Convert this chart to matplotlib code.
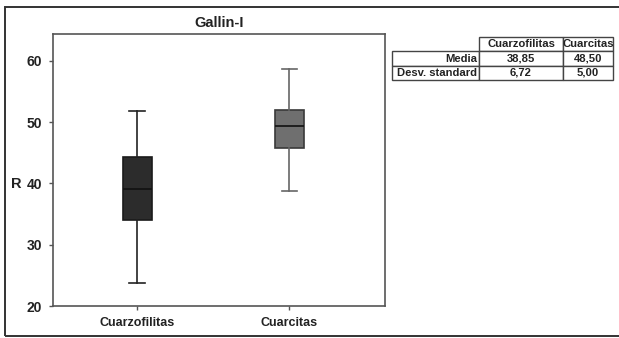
import matplotlib
matplotlib.use("Agg")
import matplotlib.pyplot as plt
from matplotlib.patches import Rectangle

plt.rcParams['font.family'] = ['Liberation Sans', 'DejaVu Sans']

# Box statistics (R values)
categories = ["Cuarzofilitas", "Cuarcitas"]
whisker_low = [23.75, 38.8]
q1 = [34.0, 45.8]
median = [39.1, 49.4]
q3 = [44.3, 52.0]
whisker_high = [51.8, 58.7]
box_colors = ["#2c2c2c", "#6f6f6f"]
edge_colors = ["#1a1a1a", "#3a3a3a"]
whisker_colors = ["#222222", "#666666"]

# Summary table
table_cols = ["Cuarzofilitas", "Cuarcitas"]
table_rows = ["Media", "Desv. standard"]
table_vals = [["38,85", "48,50"], ["6,72", "5,00"]]

yticks = [20, 30, 40, 50, 60]

W, H = 619, 338
fig = plt.figure(figsize=(W / 100, H / 100), dpi=100)

# outer frame
fig.patches.append(Rectangle((5 / W, 1 - 336 / H), 620 / W, 329 / H,
                             transform=fig.transFigure, fill=False,
                             edgecolor="#333333", linewidth=1.4))

ax = fig.add_axes([53 / W, 1 - 306 / H, 332 / W, 272 / H])

stats = []
for i, c in enumerate(categories):
    stats.append(dict(label=c, whislo=whisker_low[i], q1=q1[i], med=median[i],
                      q3=q3[i], whishi=whisker_high[i], fliers=[]))

for i, s in enumerate(stats):
    ax.bxp([s], positions=[i + 1], widths=0.19, patch_artist=True,
           showfliers=False,
           boxprops=dict(facecolor=box_colors[i], edgecolor=edge_colors[i], linewidth=1.2),
           medianprops=dict(color="#111111", linewidth=1.2),
           whiskerprops=dict(color=whisker_colors[i], linewidth=1.2),
           capprops=dict(color=whisker_colors[i], linewidth=1.2),
           capwidths=0.1)

ax.set_xlim(0.447, 2.63)
ax.set_ylim(20, 64.4)
ax.set_yticks(yticks)
ax.set_yticklabels([str(v) for v in yticks], fontsize=10, fontweight="bold", color="#222222")
ax.set_xticks([1, 2])
ax.set_xticklabels(categories, fontsize=9, fontweight="bold", color="#222222")
ax.tick_params(axis="both", length=3, width=1, color="#555555", pad=5)
for sp in ax.spines.values():
    sp.set_color("#555555")
    sp.set_linewidth(1.2)
ax.set_title("Gallin-I", fontsize=10.5, fontweight="bold", color="#222222", pad=5)
fig.text(16 / W, 1 - 184 / H, "R", fontsize=10.5, fontweight="bold",
         color="#222222", ha="center", va="center")

# summary table
tab_ax = fig.add_axes([392 / W, 1 - 80 / H, (613 - 392) / W, 43 / H])
tab_ax.axis("off")
cell_text = [[""] + table_cols] + [[r] + v for r, v in zip(table_rows, table_vals)]
tbl = tab_ax.table(cellText=cell_text, cellLoc="center", loc="center",
                   bbox=[0, 0, 1, 1],
                   colWidths=[87, 84, 50])
tbl.auto_set_font_size(False)
for (r, c), cell in tbl.get_celld().items():
    cell.set_linewidth(1.0)
    cell.set_edgecolor("#444444")
    cell.get_text().set_fontsize(8.1)
    cell.get_text().set_fontweight("bold")
    cell.get_text().set_color("#222222")
    if r == 0 and c == 0:
        cell.set_edgecolor("white")
        cell.visible_edges = ""
    if c == 0 and r > 0:
        cell.get_text().set_ha("right")
        cell._loc = "right"
        cell.PAD = 0.02

fig.savefig("out.png", dpi=100)
